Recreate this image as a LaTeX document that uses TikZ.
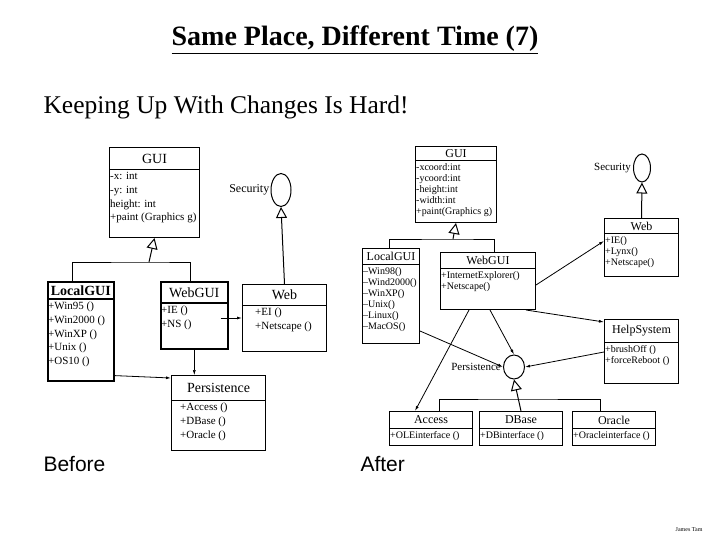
\documentclass[tikz,border=0pt]{standalone}
\usepackage{fontspec}
\setmainfont{Liberation Serif}
\setsansfont{Liberation Sans}
\usetikzlibrary{positioning,shapes.geometric,arrows.meta}
\tikzset{
  cls/.style={rectangle, draw=black, line width=1pt, anchor=north west, inner sep=0pt},
  hd/.style={rectangle, draw=black, line width=1pt, anchor=north west, inner sep=0pt, font=\fontsize{14}{14}\selectfont},
  hds/.style={hd, font=\fontsize{12}{12}\selectfont},
  txt/.style={anchor=north west, align=left, inner xsep=1pt, inner ysep=2pt, font=\fontsize{11}{13.8}\selectfont},
  txs/.style={anchor=north west, align=left, inner xsep=1pt, inner ysep=2pt, font=\fontsize{10}{11}\selectfont},
  iface/.style={ellipse, draw=black, line width=1pt, inner sep=0pt},
  inh/.style={line width=1pt, -{Triangle[open,length=11pt,width=11pt]}},
  use/.style={line width=0.8pt, -{Latex[length=5pt,width=3pt]}}
}
\begin{document}
\begin{tikzpicture}[x=1pt,y=-1pt]
  \useasboundingbox (0,0) rectangle (720,540);
  % titles
  \node[font=\fontsize{28}{28}\selectfont\bfseries] (title) at (355,40) {\underline{Same Place, Different Time (7)}};
  \node[anchor=west, font=\fontsize{25.5}{25.5}\selectfont] (sub) at (40,107) {Keeping Up With Changes Is Hard!};
  \node[anchor=west, font=\sffamily\fontsize{21}{21}\selectfont] (before) at (40,464) {Before};
  \node[anchor=west, font=\sffamily\fontsize{21}{21}\selectfont] (after) at (357,464) {After};
  \node[anchor=east, font=\fontsize{6}{6}\selectfont] (tam) at (706,530) {James Tam};

  % ---- before ----
  \node[cls, minimum width=90, minimum height=90] (gui) at (109,147) {};
  \node[hd, minimum width=90, minimum height=22] (guih) at (gui.north west) {GUI};
  \node[txt] at (guih.south west) {-x: int\\-y: int\\ height: int\\+paint (Graphics g)};

  \node[cls, line width=1.6pt, minimum width=66, minimum height=99] (lgui) at (47,281) {};
  \node[hd, line width=1.6pt, minimum width=66, minimum height=17] (lguih) at (lgui.north west) {\bfseries LocalGUI};
  \node[txt] at (lguih.south west) {+Win95 ()\\+Win2000 ()\\+WinXP ()\\+Unix ()\\+OS10 ()};

  \node[cls, line width=1.6pt, minimum width=67, minimum height=67] (wgui) at (160,281) {};
  \node[hd, line width=1.6pt, minimum width=67, minimum height=21] (wguih) at (wgui.north west) {WebGUI};
  \node[txt] at (wguih.south west) {+IE ()\\+NS ()};

  \node[cls, minimum width=84, minimum height=67] (web) at (242,284) {};
  \node[hd, minimum width=84, minimum height=21] (webh) at (web.north west) {Web};
  \node[txt] at ([xshift=12pt]webh.south west) {+EI ()\\+Netscape ()};

  \node[cls, minimum width=94, minimum height=75] (pers) at (171,375) {};
  \node[hd, minimum width=94, minimum height=25] (persh) at (pers.north west) {Persistence};
  \node[txt] at ([xshift=8pt]persh.south west) {+Access ()\\+DBase ()\\+Oracle ()};

  \node[iface, minimum width=20, minimum height=33] (sec) at (281,190) {};
  \node[anchor=east, inner sep=1pt, font=\fontsize{12}{12}\selectfont] (secl) at (sec.west) {Security};

  \coordinate (jb) at (149,262);
  \draw[inh] (jb) -- (gui.south);
  \draw[line width=1pt] ([xshift=-8pt]lgui.north) |- (jb) -| ([xshift=-4pt]wgui.north);
  \draw[inh] (web.north) -- (sec.south);
  \draw[use] ([xshift=-8pt]wgui.east |- web.center) -- (web.west |- web.center);
  \draw[use, line width=0.5pt] (wgui.south) -- (pers.north -| wgui.south);
  \draw[use] ([yshift=6pt]lgui.south east) -- ([yshift=-3pt]pers.north west);

  % ---- after ----
  \node[cls, minimum width=81, minimum height=76] (gui2) at (415,146) {};
  \node[hds, minimum width=81, minimum height=14] (gui2h) at (gui2.north west) {GUI};
  \node[txs] at (gui2h.south west) {-xcoord:int\\-ycoord:int\\-height:int\\-width:int\\+paint(Graphics g)};

  \node[cls, minimum width=57, minimum height=95] (lgui2) at (362,248) {};
  \node[hds, minimum width=57, minimum height=16] (lgui2h) at (lgui2.north west) {LocalGUI};
  \node[txs] at (lgui2h.south west) {--Win98()\\--Wind2000()\\--WinXP()\\--Unix()\\--Linux()\\--MacOS()};

  \node[cls, minimum width=95, minimum height=57] (wgui2) at (440,252) {};
  \node[hds, minimum width=95, minimum height=16] (wgui2h) at (wgui2.north west) {WebGUI};
  \node[txs] at (wgui2h.south west) {+InternetExplorer()\\+Netscape()};

  \node[cls, minimum width=74, minimum height=58] (web2) at (604,218) {};
  \node[hds, minimum width=74, minimum height=15] (web2h) at (web2.north west) {Web};
  \node[txs] at (web2h.south west) {+IE()\\+Lynx()\\+Netscape()};

  \node[cls, minimum width=74, minimum height=64] (help) at (604,319) {};
  \node[hds, minimum width=74, minimum height=23] (helph) at (help.north west) {HelpSystem};
  \node[txs] at (helph.south west) {+brushOff ()\\+forceReboot ()};

  \node[cls, minimum width=83, minimum height=34] (acc) at (389,411) {};
  \node[hds, minimum width=83, minimum height=17] (acch) at (acc.north west) {Access};
  \node[txs] at (acch.south west) {+OLEinterface ()};

  \node[cls, minimum width=83, minimum height=34] (dbase) at (479,411) {};
  \node[hds, minimum width=83, minimum height=17] (dbaseh) at (dbase.north west) {DBase};
  \node[txs] at (dbaseh.south west) {+DBinterface ()};

  \node[cls, minimum width=83, minimum height=34] (orcl) at (572,411) {};
  \node[hds, minimum width=83, minimum height=17] (orclh) at (orcl.north west) {Oracle};
  \node[txs] at (orclh.south west) {+Oracleinterface ()};

  \node[iface, minimum width=17, minimum height=28] (sec2) at (642,168) {};
  \node[anchor=east, inner sep=2pt, font=\fontsize{11}{11}\selectfont] (sec2l) at (sec2.west) {Security};
  \node[iface, minimum width=21, minimum height=24] (pers2) at (514,367) {};
  \node[anchor=east, inner sep=2pt, font=\fontsize{11}{11}\selectfont] (pers2l) at (pers2.west) {Persistence};

  \coordinate (ja) at (453,239);
  \draw[inh] (ja) -- (gui2.south);
  \draw[line width=1pt] ([xshift=-2pt]lgui2.north) |- (ja) -| ([xshift=6pt]wgui2.north);
  \draw[inh] (web2.north) -- (sec2.south);
  \coordinate (jd) at (516,399);
  \draw[inh] (dbase.north) -- (pers2.south);
  \draw[line width=1pt] ([xshift=8pt]acc.north) |- (jd) -| ([xshift=-14pt]orcl.north);
  \draw[use] ([yshift=-33pt]wgui2.north east) -- ([yshift=-23pt]web2.north west);
  \draw[use] ([xshift=-10pt]wgui2.south east) -- ([yshift=-3pt]help.north west);
  \draw[use] ([yshift=-33pt]help.north west) -- (pers2.east);
  \draw[use] ([yshift=13pt]lgui2.south east) -- (pers2.west);
  \draw[use] ([xshift=50pt]wgui2.south west) -- (pers2.north);
  \draw[use] ([xshift=29pt]wgui2.south west) -- ([xshift=-16pt]acc.north);
\end{tikzpicture}
\end{document}
